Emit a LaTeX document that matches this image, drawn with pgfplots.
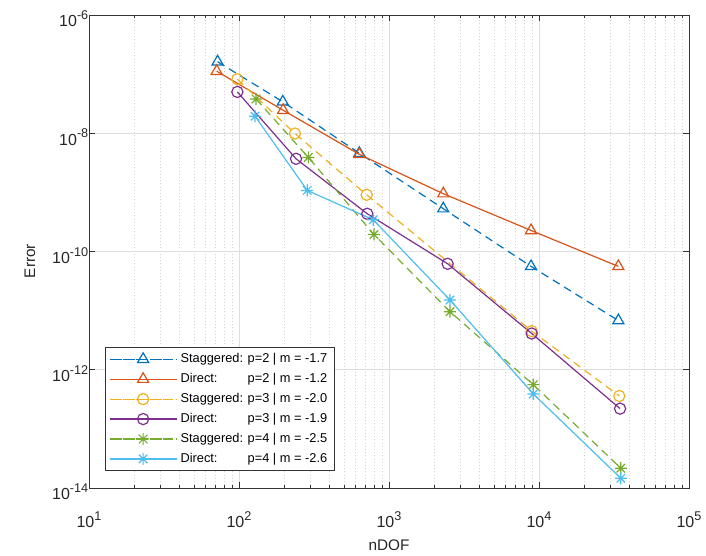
\documentclass[border=0pt]{standalone}
\usepackage{pgfplots}
\pgfplotsset{compat=1.18}
\usepackage{fontspec}
\setmainfont{Liberation Sans}
\definecolor{c1}{rgb}{0,0.447,0.741}
\definecolor{c2}{rgb}{0.85,0.325,0.098}
\definecolor{c3}{rgb}{0.929,0.694,0.125}
\definecolor{c4}{rgb}{0.494,0.184,0.556}
\definecolor{c5}{rgb}{0.466,0.674,0.188}
\definecolor{c6}{rgb}{0.301,0.745,0.933}
\pgfdeclareplotmark{mast}{%
  \pgfpathmoveto{\pgfqpoint{-\pgfplotmarksize}{0pt}}\pgfpathlineto{\pgfqpoint{\pgfplotmarksize}{0pt}}%
  \pgfpathmoveto{\pgfqpoint{0pt}{-\pgfplotmarksize}}\pgfpathlineto{\pgfqpoint{0pt}{\pgfplotmarksize}}%
  \pgfpathmoveto{\pgfqpoint{-0.707\pgfplotmarksize}{-0.707\pgfplotmarksize}}\pgfpathlineto{\pgfqpoint{0.707\pgfplotmarksize}{0.707\pgfplotmarksize}}%
  \pgfpathmoveto{\pgfqpoint{-0.707\pgfplotmarksize}{0.707\pgfplotmarksize}}\pgfpathlineto{\pgfqpoint{0.707\pgfplotmarksize}{-0.707\pgfplotmarksize}}%
  \pgfusepathqstroke}
\newcommand\lab[2]{\makebox[5.25em][l]{#1}#2}
\newcommand\sq[1]{10\raisebox{0.45em}{\fontsize{9.5}{10}\selectfont #1}}
\begin{document}
\begin{tikzpicture}
\useasboundingbox (-66.75pt,-51pt) rectangle (462.75pt,366pt);
\begin{axis}[
  at={(0,0)}, anchor=south west,
  scale only axis, width=450pt, height=354.75pt,
  xmode=log, ymode=log,
  xmin=10, xmax=1e5, ymin=1e-14, ymax=1e-6,
  xtick={10,100,1000,10000,100000},
  xticklabels={\sq{1},\sq{2},\sq{3},\sq{4},\sq{5}},
  ytick={1e-14,1e-12,1e-10,1e-8,1e-6},
  yticklabels={\sq{-14},\sq{-12},\sq{-10},\sq{-8},\sq{-6}},
  minor ytick={},
  ticklabel style={font=\fontsize{12}{14}\selectfont, text=black!85},
  xticklabel style={yshift=-14pt},
  yticklabel style={xshift=3pt, yshift=-3pt},
  xlabel={nDOF}, ylabel={Error},
  label style={font=\fontsize{11.5}{13}\selectfont, text=black!85},
  xlabel style={at={(axis description cs:0.5,-0.12)}, anchor=center},
  ylabel style={at={(axis description cs:-0.0986,0.48)}, anchor=center},
  tick align=inside, major tick length=4.5pt, minor tick length=2.5pt,
  tick style={black!80, line width=0.5pt},
  axis line style={black!80, line width=0.6pt},
  xmajorgrids, ymajorgrids, xminorgrids,
  major grid style={black!13, line width=0.5pt},
  minor grid style={black!18, dotted, line width=0.5pt},
  every axis plot/.append style={line width=0.9pt, mark size=4.2pt},
  legend style={at={(axis cs:12.76,1.95e-14)}, anchor=south west,
    draw=black!80, font=\fontsize{9.6}{11}\selectfont,
    row sep=2.5pt, inner xsep=3pt, inner ysep=2.5pt},
  legend cell align=left,
  legend image code/.code={
    \path (0cm,0cm) -- (1.78cm,0cm);
    \draw[mark repeat=2,mark phase=2] plot coordinates {(0.1cm,0cm) (0.88cm,0cm) (1.66cm,0cm)};},
]
\addplot[c1, dash pattern=on 6pt off 4pt, mark=triangle, mark size=4.8pt, mark options={solid}] coordinates {
(72,1.62e-7) (196,3.4e-8) (634,4.6e-9) (2300,5.3e-10) (8850,5.6e-11) (33800,6.8e-12)};
\addlegendentry{\lab{Staggered:}{p=2 | m = -1.7}}
\addplot[c2, mark=triangle, mark size=4.8pt, mark options={solid}] coordinates {
(71,1.12e-7) (197,2.45e-8) (634,4.4e-9) (2300,9.5e-10) (8850,2.27e-10) (33800,5.6e-11)};
\addlegendentry{\lab{Direct:}{p=2 | m = -1.2}}
\addplot[c3, dash pattern=on 6pt off 4pt, mark=o, mark options={solid}] coordinates {
(97.5,8.2e-8) (236,9.9e-9) (710,9.1e-10) (8940,4.5e-12) (34300,3.6e-13)};
\addlegendentry{\lab{Staggered:}{p=3 | m = -2.0}}
\addplot[c4, mark=o, mark options={solid}] coordinates {
(97.5,5.0e-8) (240,3.7e-9) (716,4.35e-10) (2460,6.2e-11) (8940,4.1e-12) (34700,2.2e-13)};
\addlegendentry{\lab{Direct:}{p=3 | m = -1.9}}
\addplot[c5, dash pattern=on 6pt off 4pt, mark=mast, mark size=4.5pt, mark options={solid}] coordinates {
(130,3.8e-8) (290,3.9e-9) (794,1.94e-10) (2550,9.6e-12) (9160,5.6e-13) (35100,2.16e-14)};
\addlegendentry{\lab{Staggered:}{p=4 | m = -2.5}}
\addplot[c6, mark=mast, mark size=4.5pt, mark options={solid}] coordinates {
(128,1.94e-8) (285,1.08e-9) (785,3.44e-10) (2550,1.51e-11) (9160,3.9e-13) (35100,1.46e-14)};
\addlegendentry{\lab{Direct:}{p=4 | m = -2.6}}
\end{axis}
\end{tikzpicture}
\end{document}
